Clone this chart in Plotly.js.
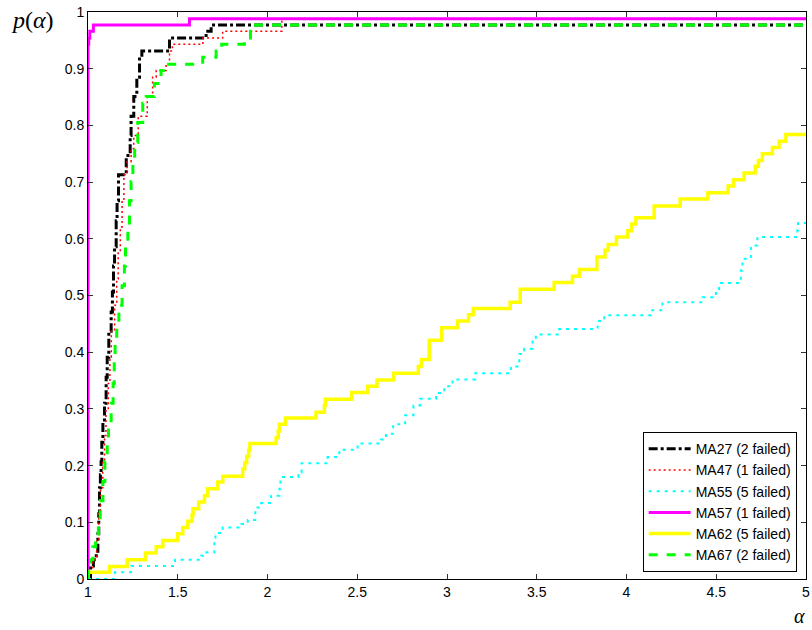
<!DOCTYPE html>
<html>
<head>
<meta charset="utf-8">
<script src="https://cdn.plot.ly/plotly-3.0.1.min.js"></script>
<style>html,body{margin:0;padding:0;background:#fff;}#chart{width:812px;height:630px;}</style>
</head>
<body>
<div id="chart"></div>
<script>
// Performance profile data (alpha = ratio, p = fraction of problems)
var ma27_alpha = [1.000, 1.014, 1.030, 1.046, 1.055, 1.060, 1.064, 1.069, 1.073, 1.077, 1.083, 1.092, 1.101, 1.107, 1.116, 1.129, 1.136, 1.142, 1.148, 1.157, 1.162, 1.170, 1.213, 1.235, 1.240, 1.255, 1.272, 1.287, 1.300, 1.454, 1.658, 1.686, 5.000];
var ma27_p     = [0.000, 0.023, 0.034, 0.046, 0.080, 0.115, 0.161, 0.184, 0.207, 0.241, 0.276, 0.310, 0.356, 0.391, 0.437, 0.471, 0.506, 0.552, 0.586, 0.632, 0.667, 0.713, 0.747, 0.782, 0.816, 0.851, 0.885, 0.920, 0.931, 0.954, 0.966, 0.977, 0.977];

var ma47_alpha = [1.000, 1.005, 1.025, 1.048, 1.060, 1.070, 1.082, 1.092, 1.100, 1.113, 1.122, 1.130, 1.148, 1.160, 1.168, 1.180, 1.190, 1.200, 1.218, 1.240, 1.255, 1.280, 1.330, 1.360, 1.380, 1.435, 1.454, 1.470, 1.640, 1.750, 2.080, 5.000];
var ma47_p     = [0.000, 0.011, 0.034, 0.069, 0.115, 0.161, 0.207, 0.253, 0.299, 0.345, 0.391, 0.437, 0.483, 0.529, 0.575, 0.621, 0.667, 0.713, 0.736, 0.759, 0.782, 0.816, 0.851, 0.885, 0.897, 0.908, 0.931, 0.943, 0.954, 0.966, 0.988, 0.988];

var ma55_alpha = [1.000, 1.150, 1.240, 1.485, 1.630, 1.660, 1.704, 1.710, 1.750, 1.855, 1.890, 1.932, 1.965, 2.020, 2.066, 2.072, 2.172, 2.190, 2.335, 2.400, 2.502, 2.632, 2.660, 2.700, 2.767, 2.813, 2.850, 2.939, 2.985, 3.031, 3.158, 3.356, 3.403, 3.430, 3.477, 3.495, 3.625, 3.839, 3.876, 4.136, 4.200, 4.423, 4.498, 4.516, 4.637, 4.646, 4.693, 4.729, 4.952, 4.956, 5.000];
var ma55_p     = [0.000, 0.012, 0.023, 0.034, 0.041, 0.047, 0.068, 0.081, 0.091, 0.097, 0.104, 0.126, 0.134, 0.147, 0.159, 0.180, 0.188, 0.204, 0.215, 0.228, 0.239, 0.246, 0.256, 0.273, 0.289, 0.306, 0.318, 0.328, 0.340, 0.352, 0.363, 0.375, 0.397, 0.406, 0.421, 0.431, 0.441, 0.455, 0.465, 0.474, 0.488, 0.497, 0.511, 0.522, 0.544, 0.565, 0.588, 0.603, 0.615, 0.628, 0.628];

var ma57_alpha = [1.000, 1.000, 1.004, 1.010, 1.030, 1.565, 5.000];
var ma57_p     = [0.000, 0.943, 0.954, 0.966, 0.977, 0.988, 0.988];

var ma62_alpha = [1.000, 1.000, 1.120, 1.218, 1.320, 1.380, 1.417, 1.500, 1.528, 1.556, 1.580, 1.585, 1.617, 1.649, 1.667, 1.723, 1.751, 1.862, 1.873, 1.884, 1.895, 1.902, 2.048, 2.060, 2.066, 2.100, 2.270, 2.317, 2.322, 2.469, 2.558, 2.610, 2.703, 2.840, 2.857, 2.901, 2.970, 3.059, 3.120, 3.146, 3.352, 3.408, 3.597, 3.699, 3.737, 3.835, 3.880, 3.898, 3.944, 4.006, 4.028, 4.052, 4.154, 4.299, 4.453, 4.566, 4.596, 4.655, 4.717, 4.735, 4.757, 4.813, 4.850, 4.888, 5.000];
var ma62_p     = [0.000, 0.012, 0.022, 0.034, 0.046, 0.057, 0.068, 0.080, 0.091, 0.102, 0.113, 0.124, 0.136, 0.147, 0.159, 0.171, 0.181, 0.194, 0.205, 0.216, 0.227, 0.239, 0.249, 0.261, 0.273, 0.284, 0.294, 0.306, 0.317, 0.329, 0.340, 0.351, 0.363, 0.375, 0.387, 0.421, 0.443, 0.455, 0.466, 0.477, 0.488, 0.511, 0.523, 0.534, 0.546, 0.568, 0.580, 0.590, 0.603, 0.614, 0.626, 0.637, 0.658, 0.670, 0.681, 0.693, 0.704, 0.716, 0.728, 0.738, 0.750, 0.761, 0.772, 0.784, 0.784];

var ma67_alpha = [1.000, 1.000, 1.014, 1.027, 1.042, 1.058, 1.068, 1.083, 1.094, 1.107, 1.114, 1.129, 1.140, 1.146, 1.151, 1.160, 1.172, 1.190, 1.203, 1.209, 1.222, 1.231, 1.240, 1.250, 1.260, 1.277, 1.305, 1.324, 1.370, 1.407, 1.420, 1.639, 1.714, 1.745, 1.871, 1.905, 1.918, 5.000];
var ma67_p     = [0.000, 0.015, 0.034, 0.057, 0.080, 0.103, 0.138, 0.172, 0.207, 0.241, 0.276, 0.310, 0.345, 0.391, 0.425, 0.448, 0.483, 0.517, 0.552, 0.586, 0.621, 0.667, 0.701, 0.736, 0.770, 0.805, 0.839, 0.851, 0.874, 0.897, 0.908, 0.920, 0.931, 0.943, 0.954, 0.966, 0.977, 0.977];

var seriesNames = ['MA27 (2 failed)', 'MA47 (1 failed)', 'MA55 (5 failed)', 'MA57 (1 failed)', 'MA62 (5 failed)', 'MA67 (2 failed)'];
var xTickVals = [1, 1.5, 2, 2.5, 3, 3.5, 4, 4.5, 5];
var xTickText = ['1', '1.5', '2', '2.5', '3', '3.5', '4', '4.5', '5'];
var yTickVals = [0, 0.1, 0.2, 0.3, 0.4, 0.5, 0.6, 0.7, 0.8, 0.9, 1];
var yTickText = ['0', '0.1', '0.2', '0.3', '0.4', '0.5', '0.6', '0.7', '0.8', '0.9', '1'];

function mk(x, y, name, color, width, dash) {
  return {x: x, y: y, name: name, type: 'scatter', mode: 'lines',
          line: {shape: 'hv', color: color, width: width, dash: dash}};
}

var data = [
  mk(ma27_alpha, ma27_p, seriesNames[0], '#000000', 3, 'dashdot'),
  mk(ma47_alpha, ma47_p, seriesNames[1], '#ff0000', 1.5, '2px,3px'),
  mk(ma55_alpha, ma55_p, seriesNames[2], '#00ffff', 2, '3px,5px'),
  mk(ma57_alpha, ma57_p, seriesNames[3], '#ff00ff', 3, 'solid'),
  mk(ma62_alpha, ma62_p, seriesNames[4], '#ffff00', 3.5, 'solid'),
  mk(ma67_alpha, ma67_p, seriesNames[5], '#00ff00', 3, 'dash')
];

var axisCommon = {
  showline: true, linecolor: '#000', linewidth: 1, mirror: 'allticks',
  ticks: 'inside', ticklen: 5, tickcolor: '#333', tickwidth: 1,
  showgrid: false, zeroline: false,
  tickfont: {family: 'Liberation Sans, Arial, sans-serif', size: 14, color: '#000'}
};

var layout = {
  width: 812, height: 630,
  margin: {l: 88, r: 6, t: 12, b: 51},
  paper_bgcolor: '#fff', plot_bgcolor: '#fff',
  showlegend: true,
  xaxis: Object.assign({}, axisCommon, {range: [1, 5], tickmode: 'array', tickvals: xTickVals, ticktext: xTickText}),
  yaxis: Object.assign({}, axisCommon, {range: [0, 1], tickmode: 'array', tickvals: yTickVals, ticktext: yTickText}),
  legend: {
    x: 0.987, y: 0.012, xanchor: 'right', yanchor: 'bottom',
    bgcolor: '#fff', bordercolor: '#000', borderwidth: 1,
    font: {family: 'Liberation Sans, Arial, sans-serif', size: 14, color: '#000'},
    itemwidth: 42,
    tracegroupgap: 0
  },
  annotations: [
    {xref: 'paper', yref: 'paper', x: -0.077, y: 0.986, xanchor: 'center', yanchor: 'middle', showarrow: false,
     text: '<i>p</i>(<i>α</i>)', font: {family: 'Liberation Serif, DejaVu Serif, serif', size: 24, color: '#000'}},
    {xref: 'paper', yref: 'paper', x: 0.991, y: -0.065, xanchor: 'center', yanchor: 'middle', showarrow: false,
     text: '<i>α</i>', font: {family: 'Liberation Serif, DejaVu Serif, serif', size: 20, color: '#000'}}
  ]
};

Plotly.newPlot('chart', data, layout, {staticPlot: true, displayModeBar: false});
</script>
</body>
</html>
